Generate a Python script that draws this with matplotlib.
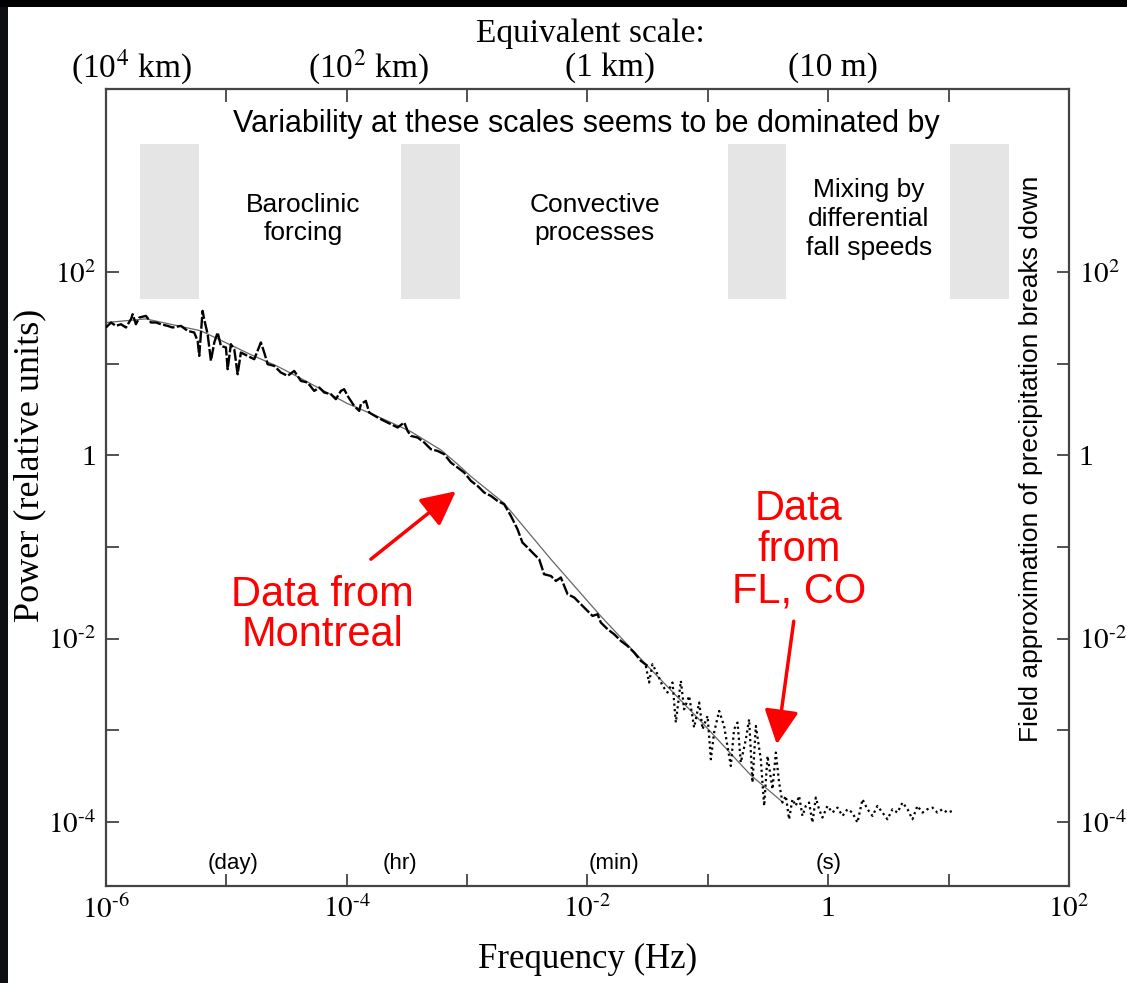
import numpy as np
import matplotlib.pyplot as plt
from matplotlib.ticker import FixedLocator, FuncFormatter
from matplotlib.patches import Rectangle

plt.rcParams['mathtext.fontset'] = 'stix'
plt.rcParams['font.family'] = ['Liberation Serif', 'DejaVu Serif']
narrow = ['Liberation Sans Narrow', 'Liberation Sans', 'DejaVu Sans']
arial = ['Liberation Sans', 'DejaVu Sans']

# log10 frequency / log10 power
mtl_lf = [-6.000, -5.958, -5.917, -5.875, -5.834, -5.792, -5.778, -5.751, -5.723, -5.668,
          -5.626, -5.585, -5.543, -5.488, -5.446, -5.377, -5.321, -5.267, -5.238, -5.225,
          -5.197, -5.184, -5.155, -5.128, -5.100, -5.072, -5.045, -5.003, -4.989, -4.962,
          -4.934, -4.906, -4.879, -4.823, -4.768, -4.713, -4.685, -4.657, -4.602, -4.547,
          -4.491, -4.436, -4.380, -4.325, -4.270, -4.228, -4.187, -4.131, -4.090, -4.048,
          -4.021, -3.993, -3.938, -3.896, -3.882, -3.841, -3.813, -3.743, -3.689, -3.633,
          -3.577, -3.522, -3.494, -3.467, -3.411, -3.356, -3.301, -3.245, -3.190, -3.135,
          -3.079, -3.024, -2.968, -2.913, -2.858, -2.802, -2.747, -2.692, -2.636, -2.581,
          -2.540, -2.497, -2.443, -2.401, -2.360, -2.304, -2.262, -2.221, -2.165, -2.110,
          -2.055, -1.999, -1.958, -1.916, -1.889, -1.833, -1.778, -1.722, -1.667, -1.612,
          -1.556, -1.501]
mtl_lp = [1.396, 1.451, 1.414, 1.432, 1.396, 1.487, 1.541, 1.432, 1.505, 1.523,
          1.451, 1.451, 1.432, 1.414, 1.396, 1.414, 1.359, 1.342, 1.250, 1.086,
          1.578, 1.487, 1.323, 1.032, 1.233, 1.342, 1.195, 1.178, 0.941, 1.214,
          1.159, 0.886, 1.123, 1.086, 1.050, 1.233, 1.123, 0.996, 0.977, 0.905,
          0.868, 0.922, 0.813, 0.796, 0.704, 0.741, 0.687, 0.668, 0.614, 0.704,
          0.723, 0.650, 0.540, 0.486, 0.559, 0.595, 0.468, 0.414, 0.377, 0.341,
          0.305, 0.359, 0.267, 0.213, 0.195, 0.141, 0.068, 0.049, 0.013, -0.078,
          -0.132, -0.187, -0.278, -0.333, -0.405, -0.442, -0.497, -0.533, -0.660, -0.806,
          -0.951, -1.006, -1.079, -1.133, -1.297, -1.316, -1.370, -1.333, -1.515, -1.551,
          -1.624, -1.698, -1.752, -1.734, -1.824, -1.897, -1.952, -2.025, -2.080, -2.152,
          -2.243, -2.298]

fl_lf = [-1.515, -1.488, -1.460, -1.418, -1.376, -1.335, -1.293, -1.266, -1.224, -1.197,
         -1.155, -1.114, -1.072, -1.044, -1.002, -0.975, -0.948, -0.906, -0.865, -0.809,
         -0.782, -0.753, -0.726, -0.684, -0.657, -0.629, -0.601, -0.560, -0.532, -0.504,
         -0.463, -0.435, -0.408, -0.380, -0.352, -0.325, -0.297, -0.269, -0.242, -0.214,
         -0.186, -0.159, -0.131, -0.103, -0.076, -0.048, -0.006, 0.035, 0.077, 0.119,
         0.160, 0.201, 0.243, 0.285, 0.326, 0.368, 0.409, 0.451, 0.492, 0.534,
         0.575, 0.617, 0.659, 0.700, 0.741, 0.783, 0.824, 0.866, 0.907, 0.949,
         0.990, 1.032]
fl_lp = [-2.298, -2.479, -2.279, -2.389, -2.516, -2.588, -2.479, -2.916, -2.461, -2.771,
         -2.626, -2.971, -2.698, -2.989, -2.844, -3.317, -3.025, -2.789, -2.953, -3.390,
         -2.989, -2.916, -3.353, -3.098, -2.880, -3.571, -2.953, -3.317, -3.826, -3.281,
         -3.644, -3.244, -3.571, -3.789, -3.717, -3.972, -3.753, -3.826, -3.717, -3.935,
         -3.826, -3.789, -4.008, -3.735, -3.862, -3.953, -3.826, -3.899, -3.845, -3.935,
         -3.862, -3.899, -4.008, -3.753, -3.862, -3.935, -3.826, -3.899, -3.972, -3.862,
         -3.899, -3.789, -3.862, -3.972, -3.826, -3.899, -3.862, -3.845, -3.899, -3.862,
         -3.899, -3.881]

fit_lf = [-6.000, -5.668, -5.211, -4.796, -4.571, -4.380, -4.000, -3.700, -3.467, -3.218,
          -3.075, -2.968, -2.694, -2.304, -1.889, -1.515, -1.058, -0.643, -0.377]
fit_lp = [1.45, 1.49, 1.36, 1.10, 0.97, 0.84, 0.57, 0.40, 0.26, 0.06,
          -0.10, -0.23, -0.52, -1.133, -1.755, -2.279, -2.902, -3.491, -3.786]

box_lo = [-5.72, -3.55, -0.83, 1.01]
box_hi = [-5.23, -3.06, -0.35, 1.50]
box_bottom, box_top = 1.71, 3.40

regimes = ['Baroclinic\nforcing', 'Convective\nprocesses', 'Mixing by\ndifferential\nfall speeds']
regime_lf = [-4.364, -1.939, 0.337]
times = ['(day)', '(hr)', '(min)', '(s)']
time_lf = [-4.94, -3.56, -1.78, 0.0]
scales = ['(10$^4$ km)', '(10$^2$ km)', '(1 km)', '(10 m)']
scale_lf = [-5.79, -3.82, -1.81, 0.04]

fig = plt.figure(figsize=(11.27, 9.83), dpi=100, facecolor='white')
# dark frame around the slide-like white area
fig.patches.append(Rectangle((0, 0), 8 / 1127, 1, transform=fig.transFigure,
                             facecolor='#0d0f12', edgecolor='none', zorder=-5))
fig.patches.append(Rectangle((0, 1 - 7 / 983), 1, 7 / 983, transform=fig.transFigure,
                             facecolor='black', edgecolor='none', zorder=-5))
ax = fig.add_axes([0.094, 0.0987, 0.8545, 0.8108])
ax.set_facecolor('white')
ax.set_xscale('log')
ax.set_yscale('log')
ax.set_xlim(1e-6, 1e2)
ax.set_ylim(10 ** -4.7, 1e4)

for lo, hi in zip(box_lo, box_hi):
    ax.fill_between([10 ** lo, 10 ** hi], 10 ** box_bottom, 10 ** box_top,
                    color='#e5e5e5', lw=0, zorder=1)

ax.plot(10 ** np.array(fit_lf), 10 ** np.array(fit_lp), color='#666666', lw=0.9, zorder=2)
ax.plot(10 ** np.array(mtl_lf), 10 ** np.array(mtl_lp), color='black', lw=1.7,
        ls=(0, (5, 1)), zorder=3)
ax.plot(10 ** np.array(fl_lf), 10 ** np.array(fl_lp), color='black', lw=1.6,
        ls=(0, (1, 1.5)), zorder=3)


def fmt(v, pos):
    e = int(round(np.log10(v)))
    if e % 2:
        return ''
    if e == 0:
        return '1'
    return r'$10^{%d}$' % e if e > 0 else '$10^{\u2010%d}$' % -e


ax.xaxis.set_major_locator(FixedLocator(10.0 ** np.arange(-6, 3)))
ax.yaxis.set_major_locator(FixedLocator(10.0 ** np.arange(-4, 3)))
ax.xaxis.set_minor_locator(FixedLocator([]))
ax.yaxis.set_minor_locator(FixedLocator([]))
ax.xaxis.set_major_formatter(FuncFormatter(fmt))
ax.yaxis.set_major_formatter(FuncFormatter(fmt))
ax.tick_params(which='both', direction='in', length=9, width=1.3, color='#444444',
               top=True, right=True, labelright=True, labelsize=21, pad=7)
for s in ax.spines.values():
    s.set_color('#444444')
    s.set_linewidth(1.6)

ax.set_xlabel('Frequency (Hz)', fontsize=25)
ax.xaxis.set_label_coords(0.5, -0.072)
ax.set_ylabel('Power (relative units)', fontsize=26)
ax.yaxis.set_label_coords(-0.062, 0.528)

ax.text(10 ** -2.013, 10 ** 3.62, 'Variability at these scales seems to be dominated by',
        ha='center', va='center', fontsize=22, family=narrow)
for lab, lf in zip(regimes, regime_lf):
    ax.text(10 ** lf, 10 ** 2.58, lab, ha='center', va='center', fontsize=19,
            family=narrow, linespacing=1.25)
for lab, lf in zip(times, time_lf):
    ax.text(10 ** lf, 10 ** -4.46, lab, ha='center', va='center', fontsize=16, family=narrow)
for lab, lf in zip(scales, scale_lf):
    ax.text(10 ** lf, 1.027, lab, ha='center', va='center', fontsize=24,
            transform=ax.get_xaxis_transform())
fig.text(590 / 1127, 1 - 34 / 983, 'Equivalent scale:', ha='center', va='center', fontsize=24)

ax.text(10 ** 1.683, 10 ** -0.04, 'Field approximation of precipitation breaks down',
        rotation=90, ha='center', va='center', fontsize=19, family=narrow)

ax.text(10 ** -4.198, 10 ** -1.745, 'Data from\nMontreal', color='red', ha='center',
        va='center', fontsize=30, family=arial, linespacing=1.0)
ax.text(10 ** -0.244, 10 ** -1.035, 'Data\nfrom\nFL, CO', color='red', ha='center',
        va='center', fontsize=30, family=arial, linespacing=1.05)
arrow = dict(arrowstyle='-|>,head_length=0.7,head_width=0.35', mutation_scale=30,
             color='red', lw=2.5, shrinkA=0, shrinkB=0)
ax.annotate('', xy=(10 ** -3.093, 10 ** -0.391), xytext=(10 ** -3.799, 10 ** -1.133),
            arrowprops=arrow)
ax.annotate('', xy=(10 ** -0.427, 10 ** -3.153), xytext=(10 ** -0.286, 10 ** -1.810),
            arrowprops=arrow)

fig.savefig('out.png', dpi=100, facecolor=fig.get_facecolor())
